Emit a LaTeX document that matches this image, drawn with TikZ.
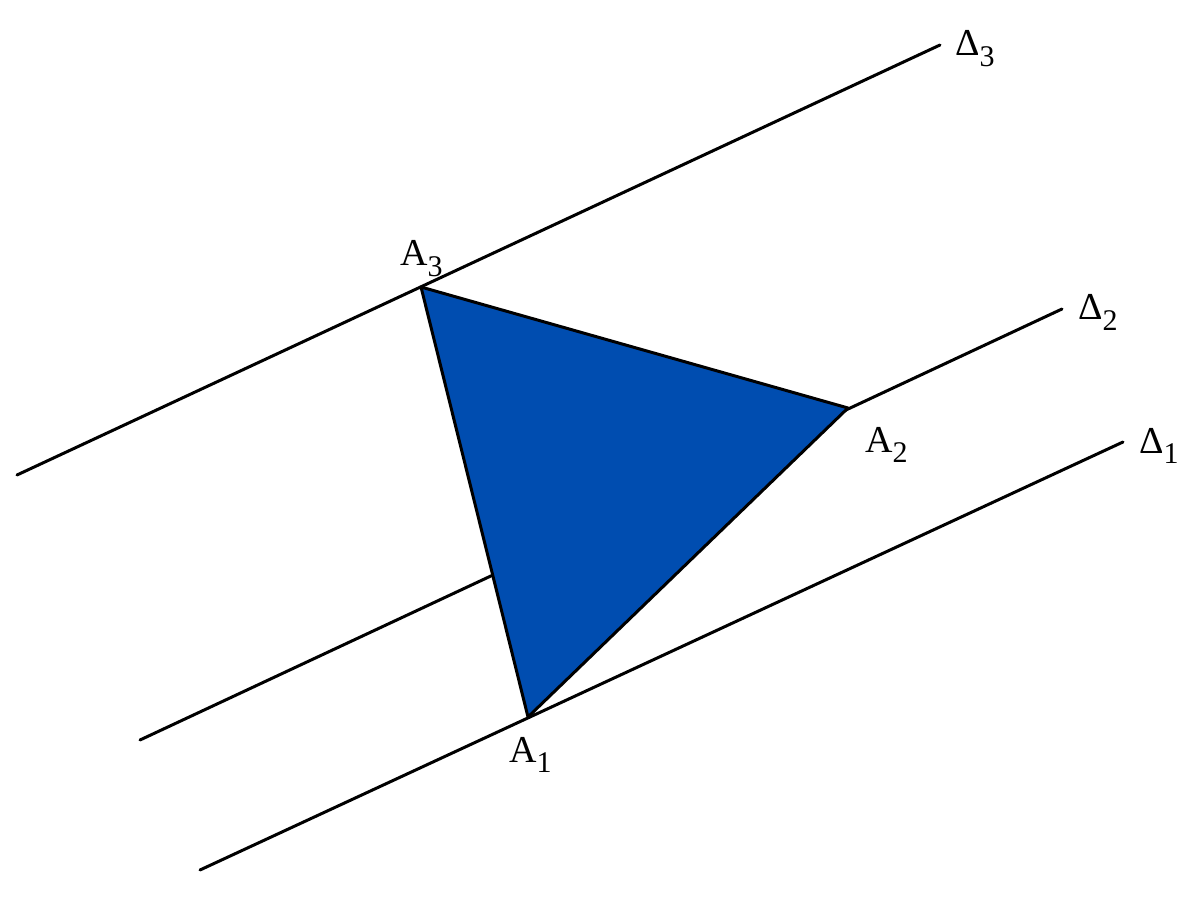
\documentclass[tikz,border=0pt]{standalone}
\usepackage{fontspec}
\setmainfont{Liberation Serif}
\definecolor{triblue}{RGB}{0,77,176}
\newcommand{\sublbl}[1]{\raisebox{-0.28em}{\fontsize{30}{30}\selectfont #1}}
\tikzset{
  line/.style={line width=3pt, line cap=round},
  lbl/.style={anchor=base west, inner sep=0pt, font=\fontsize{38}{40}\selectfont},
}
\begin{document}
\begin{tikzpicture}[x=1pt,y=-1pt]
\useasboundingbox[fill=white] (0,0) rectangle (1200,909);
% line end points
\coordinate (d3s) at (17,475);
\coordinate (d3e) at (940,45);
\coordinate (d2s) at (140,740);
\coordinate (d2e) at (1062,309);
\coordinate (d1s) at (200,870);
\coordinate (d1e) at (1123,442);
% triangle vertices
\coordinate (A3) at (421,287);
\coordinate (A2) at (848,408);
\coordinate (A1) at (528,717);
\draw[line] (d3s) -- (d3e);
\draw[line] (d2s) -- (d2e);
\draw[line] (d1s) -- (d1e);
\filldraw[fill=triblue, draw=black, line width=3pt, line join=round] (A3) -- (A2) -- (A1) -- cycle;
% labels
\node[lbl] (lA3) at (400,266) {A\sublbl{3}};
\node[lbl] (lA2) at (865,452) {A\sublbl{2}};
\node[lbl] (lA1) at (509,762) {A\sublbl{1}};
\node[lbl] (lD3) at (955,56) {Δ\sublbl{3}};
\node[lbl] (lD2) at (1078,320) {Δ\sublbl{2}};
\node[lbl] (lD1) at (1139,453) {Δ\sublbl{1}};
\end{tikzpicture}
\end{document}
